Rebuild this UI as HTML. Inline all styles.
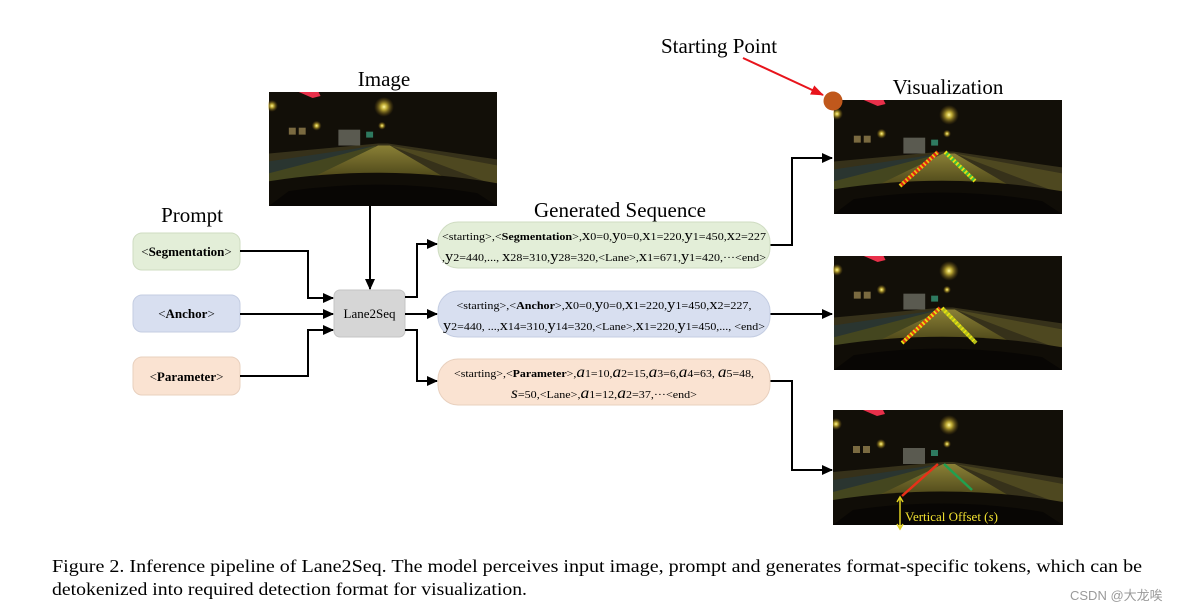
<!DOCTYPE html>
<html><head><meta charset="utf-8"><style>
html,body{margin:0;padding:0;background:#fff;}
svg{display:block;}
text{font-family:"Liberation Serif","Times New Roman",serif;}
</style></head><body>
<svg width="1185" height="611" viewBox="0 0 1185 611" xmlns="http://www.w3.org/2000/svg" font-family="Liberation Serif, serif">
<defs>
<marker id="ah" markerWidth="11" markerHeight="10" refX="10" refY="5" orient="auto" markerUnits="userSpaceOnUse"><path d="M0,0 L11,5 L0,10 z" fill="#000"/></marker>
<marker id="ahr" markerWidth="13" markerHeight="10" refX="12" refY="5" orient="auto" markerUnits="userSpaceOnUse"><path d="M0,0 L13,5 L0,10 z" fill="#e8141c"/></marker>
<radialGradient id="glow" cx="0.5" cy="0.5" r="0.5"><stop offset="0" stop-color="#fff8a0"/><stop offset="0.3" stop-color="#e8d040" stop-opacity="0.8"/><stop offset="1" stop-color="#806010" stop-opacity="0"/></radialGradient>
<linearGradient id="road" x1="0" y1="0" x2="0" y2="1"><stop offset="0" stop-color="#8a8036"/><stop offset="1" stop-color="#4a4418"/></linearGradient>
<symbol id="scene" viewBox="0 0 230 115">
<rect width="230" height="115" fill="#120f08"/>
<path d="M0,62 L110,52 L120,52 L230,68 L230,115 L0,115 z" fill="#36311a"/>
<path d="M0,80 L108,54 L60,100 L0,108 z" fill="#44461f"/>
<path d="M0,70 L108,54 L0,82 z" fill="#2a3530"/>
<path d="M110,54 L122,54 L180,88 L40,88 z" fill="url(#road)"/>
<path d="M122,54 L230,74 L230,95 z" fill="#4e4820"/>
<path d="M0,90 Q115,72 230,92 L230,115 L0,115 z" fill="#100d07"/>
<path d="M20,100 Q115,86 210,102 L230,115 L0,115 z" fill="#080604"/>
<rect x="70" y="38" width="22" height="16" fill="#5a5a50"/>
<rect x="98" y="40" width="7" height="6" fill="#2e7a60"/>
<rect x="20" y="36" width="7" height="7" fill="#7a6a40"/><rect x="30" y="36" width="7" height="7" fill="#7a6a40"/>
<circle cx="116" cy="15" r="10" fill="url(#glow)"/>
<circle cx="48" cy="34" r="5" fill="url(#glow)"/>
<circle cx="3" cy="14" r="6" fill="url(#glow)"/>
<circle cx="114" cy="34" r="4" fill="url(#glow)"/>
<path d="M30,0 L50,0 L52,4 L44,6 z" fill="#e8304a"/>
</symbol>
</defs>

<text x="384" y="86" font-size="21" text-anchor="middle">Image</text>
<text x="948" y="94" font-size="21" text-anchor="middle">Visualization</text>
<text x="192" y="222" font-size="21" text-anchor="middle">Prompt</text>
<text x="620" y="217" font-size="21" text-anchor="middle">Generated Sequence</text>
<text x="661" y="53" font-size="21">Starting Point</text>

<use href="#scene" x="268" y="92" width="230" height="114" preserveAspectRatio="none"/>
<use href="#scene" x="833" y="100" width="230" height="114" preserveAspectRatio="none"/>
<use href="#scene" x="833" y="256" width="230" height="114" preserveAspectRatio="none"/>
<use href="#scene" x="833" y="405" width="230" height="125" preserveAspectRatio="none"/>
<line x1="900" y1="186" x2="938" y2="152" stroke="#e8c010" stroke-width="4" stroke-dasharray="2 2"/>
<line x1="900" y1="186" x2="938" y2="152" stroke="#e82010" stroke-width="4" stroke-dasharray="2 2" stroke-dashoffset="2"/>
<line x1="945" y1="152" x2="975" y2="181" stroke="#e8e010" stroke-width="4" stroke-dasharray="2 2"/>
<line x1="945" y1="152" x2="975" y2="181" stroke="#40c040" stroke-width="4" stroke-dasharray="2 2" stroke-dashoffset="2"/>
<line x1="902" y1="343" x2="940" y2="308" stroke="#e8e010" stroke-width="4" stroke-dasharray="2 2"/>
<line x1="902" y1="343" x2="940" y2="308" stroke="#e84010" stroke-width="4" stroke-dasharray="2 2" stroke-dashoffset="2"/>
<line x1="942" y1="308" x2="976" y2="343" stroke="#e8e010" stroke-width="4" stroke-dasharray="2 2"/>
<line x1="942" y1="308" x2="976" y2="343" stroke="#b0c020" stroke-width="4" stroke-dasharray="2 2" stroke-dashoffset="2"/>
<line x1="902" y1="496" x2="938" y2="464" stroke="#e83018" stroke-width="2.5"/>
<line x1="944" y1="464" x2="972" y2="490" stroke="#20a050" stroke-width="2.5"/>
<line x1="900" y1="498" x2="900" y2="528" stroke="#e0d020" stroke-width="1.5"/>
<path d="M897,502 L900,497 L903,502 M897,524 L900,529 L903,524" stroke="#e0d020" stroke-width="1.5" fill="none"/>
<text x="905" y="521" font-size="13" fill="#f0e030">Vertical Offset (<tspan font-style="italic">s</tspan>)</text>

<line x1="743" y1="58" x2="823" y2="95" stroke="#e8141c" stroke-width="2" marker-end="url(#ahr)"/>
<circle cx="833" cy="101" r="9.5" fill="#c0581c"/>

<rect x="133" y="233" width="107" height="37" rx="9" fill="#e3eed8" stroke="#cfdcc2"/>
<text x="186.5" y="256" font-size="13" text-anchor="middle">&lt;<tspan font-weight="bold">Segmentation</tspan>&gt;</text>
<rect x="133" y="295" width="107" height="37" rx="9" fill="#d8dff0" stroke="#c4cde2"/>
<text x="186.5" y="318" font-size="13" text-anchor="middle">&lt;<tspan font-weight="bold">Anchor</tspan>&gt;</text>
<rect x="133" y="357" width="107" height="38" rx="9" fill="#fae3d2" stroke="#e8d0be"/>
<text x="186.5" y="381" font-size="13" text-anchor="middle">&lt;<tspan font-weight="bold">Parameter</tspan>&gt;</text>

<rect x="334" y="290" width="71" height="47" rx="6" fill="#d6d6d6" stroke="#c4c4c4"/>
<text x="369.5" y="318" font-size="13" text-anchor="middle">Lane2Seq</text>

<g stroke="#000" stroke-width="2" fill="none">
<polyline points="240,251 308,251 308,298 333,298" marker-end="url(#ah)"/>
<line x1="240" y1="314" x2="333" y2="314" marker-end="url(#ah)"/>
<polyline points="240,376 308,376 308,330 333,330" marker-end="url(#ah)"/>
<line x1="370" y1="206" x2="370" y2="289" marker-end="url(#ah)"/>
<polyline points="405,297 417,297 417,244 437,244" marker-end="url(#ah)"/>
<line x1="405" y1="314" x2="437" y2="314" marker-end="url(#ah)"/>
<polyline points="405,330 417,330 417,381 437,381" marker-end="url(#ah)"/>
<polyline points="770,245 792,245 792,158 832,158" marker-end="url(#ah)"/>
<line x1="770" y1="314" x2="832" y2="314" marker-end="url(#ah)"/>
<polyline points="770,381 792,381 792,470 832,470" marker-end="url(#ah)"/>
</g>

<rect x="438" y="222" width="332" height="46" rx="20" fill="#e3eed8" stroke="#cfdcc2"/>
<text x="604" y="240" font-size="11" text-anchor="middle" textLength="324" lengthAdjust="spacingAndGlyphs">&lt;starting&gt;,&lt;<tspan font-weight="bold">Segmentation</tspan>&gt;,<tspan font-size="15">x</tspan>0=0,<tspan font-size="15">y</tspan>0=0,<tspan font-size="15">x</tspan>1=220,<tspan font-size="15">y</tspan>1=450,<tspan font-size="15">x</tspan>2=227</text>
<text x="604" y="261" font-size="11" text-anchor="middle" textLength="324" lengthAdjust="spacingAndGlyphs">,<tspan font-size="15">y</tspan>2=440,..., <tspan font-size="15">x</tspan>28=310,<tspan font-size="15">y</tspan>28=320,&lt;Lane&gt;,<tspan font-size="15">x</tspan>1=671,<tspan font-size="15">y</tspan>1=420,···&lt;end&gt;</text>
<rect x="438" y="291" width="332" height="46" rx="20" fill="#d8dff0" stroke="#c4cde2"/>
<text x="604" y="309" font-size="11" text-anchor="middle" textLength="295" lengthAdjust="spacingAndGlyphs">&lt;starting&gt;,&lt;<tspan font-weight="bold">Anchor</tspan>&gt;,<tspan font-size="15">x</tspan>0=0,<tspan font-size="15">y</tspan>0=0,<tspan font-size="15">x</tspan>1=220,<tspan font-size="15">y</tspan>1=450,<tspan font-size="15">x</tspan>2=227,</text>
<text x="604" y="330" font-size="11" text-anchor="middle" textLength="322" lengthAdjust="spacingAndGlyphs"><tspan font-size="15">y</tspan>2=440, ...,<tspan font-size="15">x</tspan>14=310,<tspan font-size="15">y</tspan>14=320,&lt;Lane&gt;,<tspan font-size="15">x</tspan>1=220,<tspan font-size="15">y</tspan>1=450,..., &lt;end&gt;</text>
<rect x="438" y="359" width="332" height="46" rx="20" fill="#fae3d2" stroke="#e8d0be"/>
<text x="604" y="377" font-size="11" text-anchor="middle" textLength="300" lengthAdjust="spacingAndGlyphs">&lt;starting&gt;,&lt;<tspan font-weight="bold">Parameter</tspan>&gt;,<tspan font-size="16" font-style="italic">a</tspan>1=10,<tspan font-size="16" font-style="italic">a</tspan>2=15,<tspan font-size="16" font-style="italic">a</tspan>3=6,<tspan font-size="16" font-style="italic">a</tspan>4=63, <tspan font-size="16" font-style="italic">a</tspan>5=48,</text>
<text x="604" y="398" font-size="11" text-anchor="middle" textLength="186" lengthAdjust="spacingAndGlyphs"><tspan font-size="16" font-style="italic">s</tspan>=50,&lt;Lane&gt;,<tspan font-size="16" font-style="italic">a</tspan>1=12,<tspan font-size="16" font-style="italic">a</tspan>2=37,···&lt;end&gt;</text>

<text x="52" y="572" font-size="17.5" textLength="1090" lengthAdjust="spacingAndGlyphs">Figure 2. Inference pipeline of Lane2Seq. The model perceives input image, prompt and generates format-specific tokens, which can be</text>
<text x="52" y="595" font-size="17.5" textLength="475" lengthAdjust="spacingAndGlyphs">detokenized into required detection format for visualization.</text>
<text x="1070" y="600" font-size="13" fill="#9a9a9a" style="font-family:'Liberation Sans','Noto Sans CJK SC',sans-serif">CSDN @大龙唉</text>
</svg>
</body></html>
